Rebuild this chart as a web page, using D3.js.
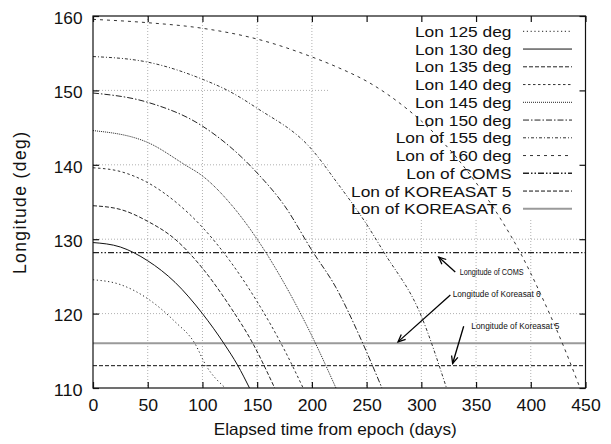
<!DOCTYPE html>
<html><head><meta charset="utf-8">
<script src="https://cdn.jsdelivr.net/npm/d3@7"></script>
<style>
body{margin:0;background:#fff}
svg{display:block}
text{font-family:"Liberation Sans",Arial,Helvetica,sans-serif;fill:#111}
</style>
</head><body>
<svg id="chart" width="611" height="444"></svg>
<script>
// ---------------- data ----------------
const xTicks = [0, 50, 100, 150, 200, 250, 300, 350, 400, 450];
const yTicks = [110, 120, 130, 140, 150, 160];
const seriesNames = ["Lon 125 deg", "Lon 130 deg", "Lon 135 deg", "Lon 140 deg", "Lon 145 deg",
  "Lon 150 deg", "Lon of 155 deg", "Lon of 160 deg", "Lon of COMS", "Lon of KOREASAT 5", "Lon of KOREASAT 6"];
// [elapsed days, longitude deg]
const lon125 = [[0,124.55],[25,123.9],[50,122.0],[75,118.9],[93,116.0],[103,113.1],[121,110]];
const lon130 = [[0,129.55],[25,128.95],[50,127.1],[75,124.2],[100,120.0],[120,115.9],[132,113.1],[143,110]];
const lon135 = [[0,134.5],[25,134.0],[50,132.4],[75,130.0],[100,126.1],[125,121.0],[146,116.0],[166,110]];
const lon140 = [[0,139.6],[25,139.1],[50,137.6],[78,134.7],[100,131.6],[125,127.1],[150,121.6],[175,115.1],[192,110]];
const lon145 = [[0,144.6],[50,143.0],[84,140.0],[100,138.5],[126,134.7],[150,130.0],[175,124.0],[200,117.0],[222,110]];
const lon150 = [[0,149.65],[50,148.4],[100,145.2],[150,138.9],[175,134.5],[200,128.5],[222,123.5],[245,116.5],[264,110]];
const lon155 = [[0,154.55],[50,153.8],[100,151.5],[123,150.0],[150,147.6],[200,142.05],[222,137.8],[250,132.0],[266,128.2],[299,120.0],[323,110]];
const lon160 = [[0,159.55],[50,159.1],[100,158.35],[150,156.9],[200,154.5],[222,153.2],[254,150.9],[287,147.5],[308,144.8],[320,143.0],[350,137.6],[373,132.6],[390,128.3],[410,122.3],[430,115.6],[445,110]];
const lonCOMS = [[0,128.2],[450,128.2]];
const lonKoreasat5 = [[0,113.0],[450,113.0]];
const lonKoreasat6 = [[0,116.0],[450,116.0]];
const annotationTexts = ["Longitude of COMS", "Longitude of Koreasat 6", "Longitude of Koreasat 5"];
const annotationTextAt = [[335,125.2],[328.6,122.2],[345.7,117.9]];
const annotationArrowFrom = [[331,125.6],[326.5,122.5],[338.7,118.3]];
const annotationArrowTo = [[315.8,127.6],[278.7,116.2],[328.6,113.3]];

const seriesData = [lon125, lon130, lon135, lon140, lon145, lon150, lon155, lon160, lonCOMS, lonKoreasat5, lonKoreasat6];

// ---------------- styles ----------------
const styles = [
  {dash:"1.2,2.6", w:1,   c:"#222"},
  {dash:null,      w:1,   c:"#111"},
  {dash:"4,2",     w:1,   c:"#222"},
  {dash:"2.5,2.5", w:1,   c:"#333"},
  {dash:"1,1",     w:1,   c:"#222"},
  {dash:"6,2,1.5,2", w:1, c:"#222"},
  {dash:"3,2,1,2", w:1,   c:"#333"},
  {dash:"3,4",     w:1,   c:"#333"},
  {dash:"6,2,1.5,2,1.5,2", w:1.4, c:"#222"},
  {dash:"4,2",     w:1,   c:"#111"},
  {dash:null,      w:2,   c:"#9a9a9a"}
];
const annotationWidths = [64, 88, 88];

// ---------------- layout ----------------
const L = 93, R = 585.5, T = 16, B = 388;
const svg = d3.select("#chart");
const x = d3.scaleLinear().domain([0, 450]).range([L, R]);
const y = d3.scaleLinear().domain([110, 160]).range([B, T]);

svg.append("defs").append("clipPath").attr("id","plotclip")
  .append("rect").attr("x",L).attr("y",T).attr("width",R-L).attr("height",B-T);

// grid
const grid = svg.append("g").attr("stroke","#9c9c9c").attr("stroke-width",0.8).attr("stroke-dasharray","1,2");
grid.selectAll(".gx").data(xTicks.filter(d => d > 0 && d < 450)).join("line")
  .attr("x1", d => x(d)).attr("x2", d => x(d)).attr("y1", T).attr("y2", B);
grid.selectAll(".gy").data(yTicks.filter(d => d > 110 && d < 160)).join("line")
  .attr("y1", d => y(d)).attr("y2", d => y(d)).attr("x1", L).attr("x2", R);

// key area blanks the grid
svg.append("rect").attr("x", 328).attr("y", T).attr("width", R - 328).attr("height", 218 - T).attr("fill", "#fff");

// series
const line = d3.line().x(d => x(d[0])).y(d => y(d[1])).curve(d3.curveMonotoneX);
const plot = svg.append("g").attr("clip-path","url(#plotclip)");
const order = [10, 9, 8, 0, 1, 2, 3, 4, 5, 6, 7];
order.forEach(i => {
  plot.append("path").datum(seriesData[i])
    .attr("d", line).attr("fill","none")
    .attr("stroke", styles[i].c).attr("stroke-width", styles[i].w)
    .attr("stroke-dasharray", styles[i].dash);
});

// border
svg.append("rect").attr("x",L).attr("y",T).attr("width",R-L).attr("height",B-T)
  .attr("fill","none").attr("stroke","#111").attr("stroke-width",1.2);

// axes
const fs = 16;
const gx = svg.append("g").attr("transform",`translate(0,${B})`)
  .call(d3.axisBottom(x).tickValues(xTicks).tickSize(-6).tickSizeOuter(0).tickPadding(11.5));
gx.select(".domain").remove();
gx.selectAll("line").attr("stroke","#111").attr("stroke-width",1.2);
gx.selectAll("text").attr("font-size",fs).attr("fill","#111")
  .attr("textLength", d => String(d).length * 9.8).attr("lengthAdjust","spacingAndGlyphs");

const gy = svg.append("g").attr("transform",`translate(${L},0)`)
  .call(d3.axisLeft(y).tickValues(yTicks).tickSize(-6).tickSizeOuter(0).tickPadding(10.5));
gy.select(".domain").remove();
gy.selectAll("line").attr("stroke","#111").attr("stroke-width",1.2);
gy.selectAll("text").attr("font-size",fs).attr("fill","#111").attr("dy","0.45em")
  .attr("textLength", d => String(d).length * 9.6).attr("lengthAdjust","spacingAndGlyphs");

const gt = svg.append("g").attr("transform",`translate(0,${T})`)
  .call(d3.axisTop(x).tickValues(xTicks).tickSize(-6).tickSizeOuter(0).tickFormat(""));
gt.select(".domain").remove();
gt.selectAll("line").attr("stroke","#111").attr("stroke-width",1.2);

const gr = svg.append("g").attr("transform",`translate(${R},0)`)
  .call(d3.axisRight(y).tickValues(yTicks).tickSize(-6).tickSizeOuter(0).tickFormat(""));
gr.select(".domain").remove();
gr.selectAll("line").attr("stroke","#111").attr("stroke-width",1.2);

// axis titles
svg.append("text").attr("x", (L + R) / 2 - 4).attr("y", 435).attr("text-anchor","middle")
  .attr("font-size",16.5).attr("textLength",243).attr("lengthAdjust","spacingAndGlyphs")
  .text("Elapsed time from epoch  (days)");
svg.append("text").attr("transform",`translate(26,${(T + B) / 2 + 1}) rotate(-90)`)
  .attr("text-anchor","middle").attr("font-size",17.5).attr("fill","#1a1a1a")
  .attr("textLength",142).attr("lengthAdjust","spacing")
  .text("Longitude (deg)");

// legend
const legend = svg.append("g");
seriesNames.forEach((name, i) => {
  const cy = 31.3 + i * 17.75;
  const t = legend.append("text").attr("x", 511.5).attr("y", cy + 5.6).attr("text-anchor","end")
    .attr("font-size",15.5).text(name);
  const w = t.node().getComputedTextLength();
  t.attr("textLength", w * 1.12).attr("lengthAdjust","spacingAndGlyphs");
  legend.append("line").attr("x1",523).attr("x2",572).attr("y1",cy).attr("y2",cy)
    .attr("stroke", styles[i].c).attr("stroke-width", styles[i].w)
    .attr("stroke-dasharray", styles[i].dash);
});

// annotations
const ann = svg.append("g");
annotationTexts.forEach((t, i) => {
  ann.append("text").attr("x", x(annotationTextAt[i][0])).attr("y", y(annotationTextAt[i][1]))
    .attr("font-size", 8.5).attr("fill","#2a2a2a")
    .attr("textLength", annotationWidths[i]).attr("lengthAdjust","spacingAndGlyphs").text(t);
  const x1 = x(annotationArrowFrom[i][0]), y1 = y(annotationArrowFrom[i][1]);
  const x2 = x(annotationArrowTo[i][0]), y2 = y(annotationArrowTo[i][1]);
  ann.append("line").attr("x1",x1).attr("y1",y1).attr("x2",x2).attr("y2",y2)
    .attr("stroke","#000").attr("stroke-width",1.3);
  const a = Math.atan2(y2 - y1, x2 - x1), hl = 8, ha = 0.42;
  const p = [[x2 - hl*Math.cos(a - ha), y2 - hl*Math.sin(a - ha)], [x2, y2], [x2 - hl*Math.cos(a + ha), y2 - hl*Math.sin(a + ha)]];
  ann.append("path").attr("d", d3.line()(p)).attr("fill","none").attr("stroke","#000").attr("stroke-width",1.3);
});
</script>
</body></html>
